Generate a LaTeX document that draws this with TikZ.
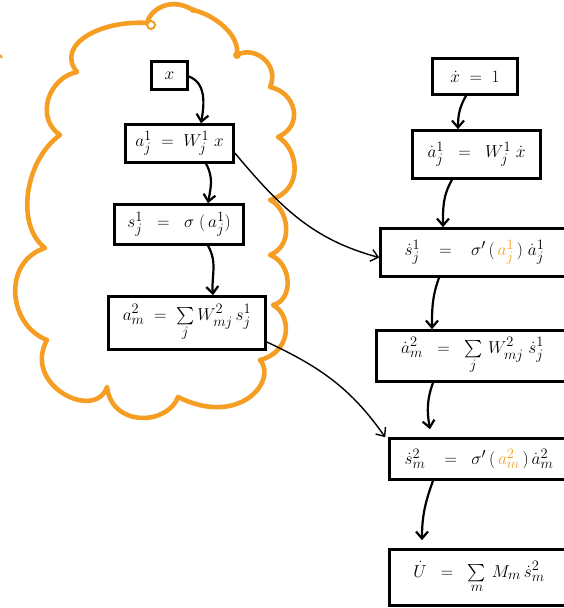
\documentclass[tikz,border=0pt]{standalone}
\usepackage{amsmath}
\usepackage{tikz}
\usetikzlibrary{arrows.meta}
\definecolor{nuvol}{RGB}{245,158,35}

\tikzset{
  caixa/.style={draw, line width=2.6pt, font=\fontsize{19}{22}\selectfont, inner sep=0pt},
  fletxa/.style={line width=2.2pt, -{Straight Barb[length=7pt,width=12pt]}},
  creua/.style={line width=1.4pt, -{Straight Barb[length=7pt,width=12pt]}},
}

\begin{document}
\begin{tikzpicture}[x=1pt,y=1pt]
  \useasboundingbox (0,0) rectangle (564,608);
  \clip (0,0) rectangle (564,608);
  % Nuvol taronja
  \draw[nuvol, line width=4.6pt, line join=round]
    (147,585) .. controls (150,598) and (170,612) .. (193,598)
    .. controls (215,593) and (240,573) .. (237,553)
    .. controls (255,563) and (280,543) .. (270,521)
    .. controls (295,516) and (305,483) .. (278,471)
    .. controls (298,460) and (305,418) .. (270,408)
    .. controls (288,400) and (295,363) .. (270,353)
    .. controls (292,345) and (294,308) .. (273,303)
    .. controls (292,293) and (292,256) .. (260,248)
    .. controls (278,228) and (240,180) .. (178,211)
    .. controls (168,183) and (112,180) .. (107,221)
    .. controls (95,186) and (22,223) .. (47,268)
    .. controls (8,283) and (2,346) .. (45,360)
    .. controls (15,383) and (25,448) .. (60,473)
    .. controls (35,490) and (48,530) .. (77,536)
    .. controls (55,563) and (100,588) .. cycle;
  \draw[nuvol, line width=2pt] (151,583) circle (4);
  \fill[nuvol] (237,553) circle (4) (193,598) circle (3);
  \draw[nuvol, line width=2pt] (0,553) -- (2,550);
  % Columna esquerra
  \node[caixa, minimum width=36, minimum height=28] (x) at (169.5,532.5) {$x$};
  \node[caixa, minimum width=108, minimum height=38] (a1) at (179.5,464.5) {$a^1_j \;=\; W^1_j\; x$};
  \node[caixa, minimum width=129, minimum height=40] (s1) at (179,383.5) {$s^1_j \;\;=\;\; \sigma\;(\,a^1_j)$};
  \node[caixa, minimum width=157, minimum height=53] (a2) at (187,285) {$a^2_m \;=\; \sum\limits_j W^2_{mj}\, s^1_j$};
  % Columna dreta
  \node[caixa, minimum width=85, minimum height=36] (xd) at (475,531.5) {$\dot x \;=\; 1$};
  \node[caixa, minimum width=128, minimum height=48] (ad1) at (476.5,453.5) {$\dot a^1_j \;\;=\;\; W^1_j\;\dot x$};
  \node[caixa, minimum width=188, minimum height=48] (sd1) at (474.5,355.5) {$\dot s^1_j \;\;\;=\;\;\; \sigma'\,(\,{\color{nuvol}a^1_j}\,)\;\dot a^1_j$\hspace{19pt}};
  \node[caixa, minimum width=192, minimum height=51] (ad2) at (472.5,252) {$\dot a^2_m \;\;=\;\; \sum\limits_j \, W^2_{mj}\;\dot s^1_j$};
  \node[caixa, minimum width=179, minimum height=41] (sd2) at (479,149) {$\dot s^2_m \;\;\;=\;\; \sigma'\,(\,{\color{nuvol}a^2_m}\,)\,\dot a^2_m$};
  \node[caixa, minimum width=179, minimum height=56] (ud) at (479,30.5) {$\dot U \;\;=\;\; \sum\limits_m \, M_m\,\dot s^2_m$};
  % Fletxes
  \draw[fletxa] ([yshift=-1]x.east) to[out=-20, in=80] ([xshift=21.5]a1.north);
  \draw[fletxa] ([xshift=26.5]a1.south) to[out=-60, in=80] ([xshift=29]s1.north);
  \draw[fletxa] ([xshift=29]s1.south) to[out=-60, in=95] ([xshift=26]a2.north);
  \draw[fletxa] ([xshift=-9]xd.south) to[out=-120, in=90] ([xshift=-18.5]ad1.north);
  \draw[fletxa] ([xshift=-24.5]ad1.south) to[out=-120, in=90] ([xshift=-31.5]sd1.north);
  \draw[fletxa] ([xshift=-35.5]sd1.south) to[out=-110, in=90] ([xshift=-40.5]ad2.north);
  \draw[fletxa] ([xshift=-39.5]ad2.south) to[out=-110, in=100] ([xshift=-49,yshift=8]sd2.north);
  \draw[fletxa] ([xshift=-46]sd2.south) to[out=-110, in=90] ([xshift=-57,yshift=8]ud.north);
  \draw[creua] ([yshift=-9.5]a1.east) to[out=-50, in=165] ([yshift=-5]sd1.west);
  \draw[creua] ([yshift=-19]a2.east) to[out=-25, in=125] ([xshift=-3]sd2.north west);
\end{tikzpicture}
\end{document}
